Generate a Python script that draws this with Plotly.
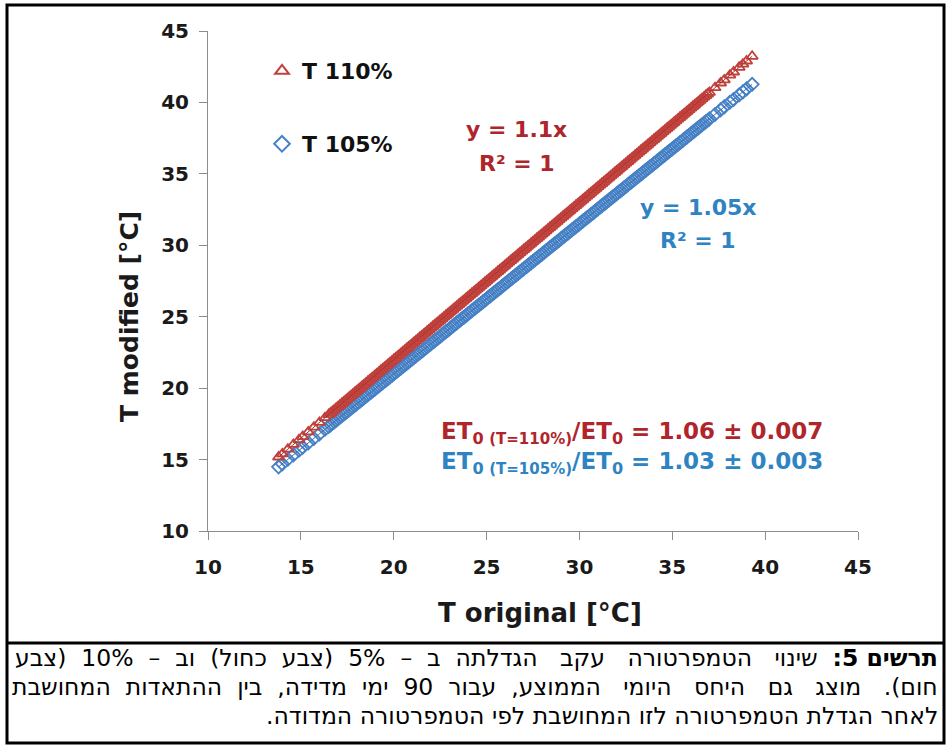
import plotly.graph_objects as go

# ---------------- data ----------------
T_original = [
    13.8, 14.0, 14.3, 14.6, 14.9, 15.1, 15.4, 15.7, 16.0, 16.3,
    16.5, 16.6, 16.7, 16.8, 16.9, 17.0, 17.1, 17.2, 17.3, 17.4, 17.5, 17.6, 17.7, 17.8,
    17.9, 18.0, 18.1, 18.2, 18.3, 18.4, 18.5, 18.6, 18.7, 18.8, 18.9, 19.0, 19.1, 19.2,
    19.3, 19.4, 19.5, 19.6, 19.7, 19.8, 19.9, 20.0, 20.1, 20.2, 20.3, 20.4, 20.5, 20.6,
    20.7, 20.8, 20.9, 21.0, 21.1, 21.2, 21.3, 21.4, 21.5, 21.6, 21.7, 21.8, 21.9, 22.0,
    22.1, 22.2, 22.3, 22.4, 22.5, 22.6, 22.7, 22.8, 22.9, 23.0, 23.1, 23.2, 23.3, 23.4,
    23.5, 23.6, 23.7, 23.8, 23.9, 24.0, 24.1, 24.2, 24.3, 24.4, 24.5, 24.6, 24.7, 24.8,
    24.9, 25.0, 25.1, 25.2, 25.3, 25.4, 25.5, 25.6, 25.7, 25.8, 25.9, 26.0, 26.1, 26.2,
    26.3, 26.4, 26.5, 26.6, 26.7, 26.8, 26.9, 27.0, 27.1, 27.2, 27.3, 27.4, 27.5, 27.6,
    27.7, 27.8, 27.9, 28.0, 28.1, 28.2, 28.3, 28.4, 28.5, 28.6, 28.7, 28.8, 28.9, 29.0,
    29.1, 29.2, 29.3, 29.4, 29.5, 29.6, 29.7, 29.8, 29.9, 30.0, 30.1, 30.2, 30.3, 30.4,
    30.5, 30.6, 30.7, 30.8, 30.9, 31.0, 31.1, 31.2, 31.3, 31.4, 31.5, 31.6, 31.7, 31.8,
    31.9, 32.0, 32.1, 32.2, 32.3, 32.4, 32.5, 32.6, 32.7, 32.8, 32.9, 33.0, 33.1, 33.2,
    33.3, 33.4, 33.5, 33.6, 33.7, 33.8, 33.9, 34.0, 34.1, 34.2, 34.3, 34.4, 34.5, 34.6,
    34.7, 34.8, 34.9, 35.0, 35.1, 35.2, 35.3, 35.4, 35.5, 35.6, 35.7, 35.8, 35.9, 36.0,
    36.1, 36.2, 36.3, 36.4, 36.5, 36.6, 36.7, 36.8, 36.9, 37.0,
    37.3, 37.6, 37.8, 38.1, 38.3, 38.6, 38.8, 39.0, 39.3,
]
# slopes given by the chart's trendline equations
SLOPE_110 = 1.1
SLOPE_105 = 1.05
T_110 = [round(SLOPE_110 * t, 2) for t in T_original]
T_105 = [round(SLOPE_105 * t, 2) for t in T_original]

series_names = ["T 110%", "T 105%"]
eq_110 = ["y = 1.1x", "R² = 1"]
eq_105 = ["y = 1.05x", "R² = 1"]
ratio_110 = "1.06 ± 0.007"
ratio_105 = "1.03 ± 0.003"
x_title = "T original [°C]"
y_title = "T modified [°C]"
caption_bold = "תרשים 5:"
caption_lines = [
    "שינוי הטמפרטורה עקב הגדלתה ב – 5% (צבע כחול) וב – 10% (צבע",
    "חום). מוצג גם היחס היומי הממוצע, עבור 90 ימי מדידה, בין ההתאדות המחושבת",
    "לאחר הגדלת הטמפרטורה לזו המחושבת לפי הטמפרטורה המדודה.",
]

# ---------------- layout helpers ----------------
W, H = 946, 747
L, R, T, B = 208, 858, 31, 531


def px(x):
    return (x - L) / (R - L)


def py(y):
    return (B - y) / (B - T)


def widen(text, extra_count=0):
    """Emulate the justified caption: add a no-break space to each word gap
    (and a second one to the first `extra_count` gaps)."""
    parts = text.split(" ")
    out = parts[0]
    for i, p in enumerate(parts[1:]):
        gap = " \u00a0" + ("\u00a0" if i < extra_count else "")
        out += gap + p
    return out


RED = "#C0403C"
BLUE = "#4681C6"
RED_TXT = "#B0252B"
BLUE_TXT = "#2E83C2"
F = "DejaVu Sans"
HEB = "DejaVu Sans, Liberation Sans, Arial"

fig = go.Figure()

fig.add_trace(go.Scatter(
    x=T_original, y=T_105, mode="markers", name=series_names[1], legend="legend2",
    marker=dict(symbol="diamond-open", size=10, color=BLUE, line=dict(width=1.8, color=BLUE)),
))
fig.add_trace(go.Scatter(
    x=T_original, y=T_110, mode="markers", name=series_names[0], legend="legend",
    marker=dict(symbol="triangle-up-open", size=10, color=RED, line=dict(width=1.8, color=RED)),
))
xmin, xmax = min(T_original), max(T_original)
fig.add_trace(go.Scatter(x=[xmin, xmax], y=[SLOPE_105 * xmin, SLOPE_105 * xmax], mode="lines",
                         line=dict(color="#3A72B4", width=1), showlegend=False, hoverinfo="skip"))
fig.add_trace(go.Scatter(x=[xmin, xmax], y=[SLOPE_110 * xmin, SLOPE_110 * xmax], mode="lines",
                         line=dict(color="#A83430", width=1), showlegend=False, hoverinfo="skip"))

axis_common = dict(
    range=[10, 45], dtick=5, tick0=10, showgrid=False, zeroline=False,
    showline=True, linecolor="#8C8C8C", linewidth=1,
    ticks="outside", ticklen=8, tickcolor="#8C8C8C", tickwidth=1,
    tickfont=dict(family=F, size=20, color="#1A1A1A", weight="bold"),
)

annotations = []


def ann(text, x, y, color, size, xanchor="center", yanchor="middle", angle=0, family=F, align="center"):
    annotations.append(dict(text=text, x=px(x), y=py(y), xref="paper", yref="paper",
                            xanchor=xanchor, yanchor=yanchor, showarrow=False, textangle=angle,
                            align=align, font=dict(family=family, size=size, color=color)))


ann("<b>%s</b>" % eq_110[0], 516, 130, RED_TXT, 22)
ann("<b>%s</b>" % eq_110[1], 517, 163, RED_TXT, 22)
ann("<b>%s</b>" % eq_105[0], 698, 207, BLUE_TXT, 22)
ann("<b>%s</b>" % eq_105[1], 698, 240, BLUE_TXT, 22)

sub_small = "<span style='font-size:15px'>(T=%s)</span>"
ann("<b>ET<sub>0 " + sub_small % "110%" + "</sub>/ET<sub>0</sub> = " + ratio_110 + "</b>",
    439, 433, RED_TXT, 23, xanchor="left")
ann("<b>ET<sub>0 " + sub_small % "105%" + "</sub>/ET<sub>0</sub> = " + ratio_105 + "</b>",
    439, 463, BLUE_TXT, 23, xanchor="left")

ann("<b>%s</b>" % x_title, 540, 613, "#1A1A1A", 26)
ann("<b>%s</b>" % y_title, 129, 317, "#1A1A1A", 25, angle=-90)

cap_texts = [
    "<b>" + caption_bold + "</b> \u00a0" + widen(caption_lines[0], extra_count=3),
    widen(caption_lines[1], extra_count=5),
    caption_lines[2] + "\u200f",
]
for i, line in enumerate(cap_texts):
    ann(line, 940, 658 + i * 29, "#000000", 23.5, xanchor="right", family=HEB, align="right")

line_k = dict(color="#000000", width=3)
shapes = [
    dict(type="rect", xref="paper", yref="paper", x0=px(7), x1=px(944), y0=py(5), y1=py(743), line=line_k),
    dict(type="line", xref="paper", yref="paper", x0=px(7), x1=px(944), y0=py(643), y1=py(643), line=line_k),
]

legend_font = dict(family=F, size=22, color="#111111", weight="bold")
fig.update_layout(
    width=W, height=H,
    margin=dict(l=L, r=W - R, t=T, b=H - B, pad=0),
    paper_bgcolor="white", plot_bgcolor="white",
    xaxis=dict(**axis_common, ticklabelstandoff=10),
    yaxis=dict(**axis_common, ticklabelstandoff=6),
    legend=dict(x=px(262), y=py(71), xanchor="left", yanchor="middle", font=legend_font,
                bgcolor="rgba(0,0,0,0)", borderwidth=0, itemsizing="constant"),
    legend2=dict(x=px(262), y=py(144), xanchor="left", yanchor="middle", font=legend_font,
                 bgcolor="rgba(0,0,0,0)", borderwidth=0, itemsizing="constant"),
    annotations=annotations,
    shapes=shapes,
    showlegend=True,
)

fig.write_html("out.html")
